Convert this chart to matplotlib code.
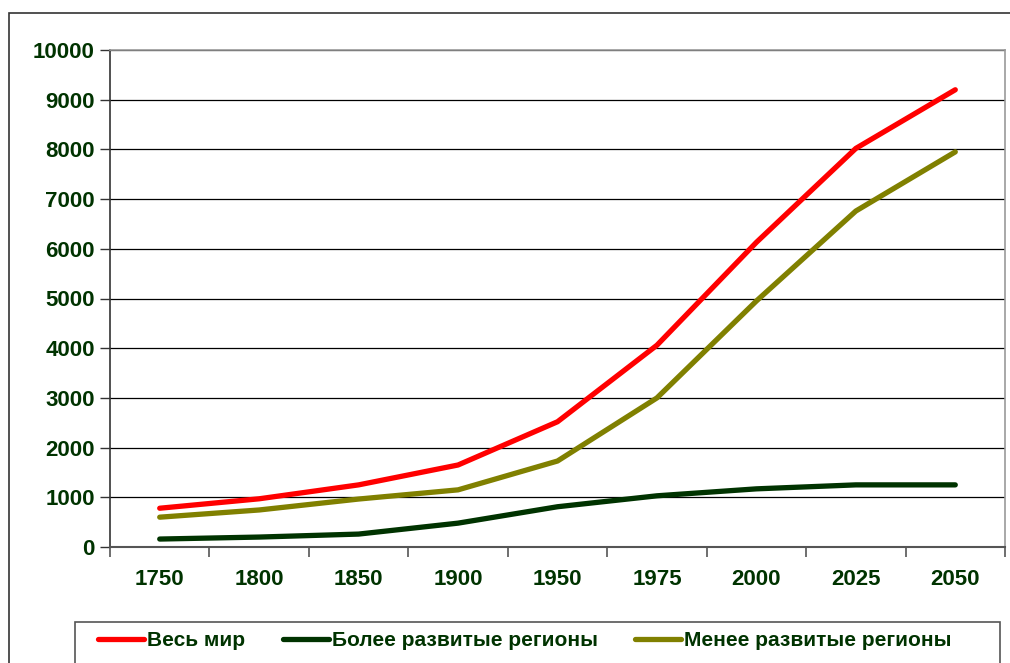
import matplotlib.pyplot as plt
from matplotlib.patches import Rectangle

years = ['1750', '1800', '1850', '1900', '1950', '1975', '2000', '2025', '2050']
world = [780, 970, 1250, 1650, 2520, 4060, 6130, 8020, 9200]
more_dev = [160, 200, 260, 480, 810, 1030, 1170, 1250, 1250]
less_dev = [600, 745, 965, 1150, 1730, 3000, 4950, 6760, 7950]
labels = ['Весь мир', 'Более развитые регионы', 'Менее развитые регионы']

txt = '#003300'
plt.rcParams['font.family'] = ['Liberation Sans', 'DejaVu Sans']
plt.rcParams['font.weight'] = 'bold'

fig = plt.figure(figsize=(10.1, 6.63), dpi=100)
# outer chart border (cut by the image edges)
fig.patches.append(Rectangle((9 / 1010, -0.1), 1.2, 1 - 13 / 663 + 0.1, transform=fig.transFigure,
                             fill=False, edgecolor='#333333', lw=1.2))

ax = fig.add_axes([110 / 1010, 116 / 663, 895 / 1010, 497 / 663])
x = list(range(len(years)))
ax.plot(x, world, color='#ff0000', lw=3.8, solid_capstyle='round', label=labels[0])
ax.plot(x, more_dev, color='#003300', lw=3.8, solid_capstyle='round', label=labels[1])
ax.plot(x, less_dev, color='#808000', lw=3.8, solid_capstyle='round', label=labels[2])

ax.set_xlim(-0.5, len(years) - 0.5)
ax.set_ylim(0, 10000)
ax.set_yticks(range(0, 10001, 1000))
ax.set_xticks([i - 0.5 for i in range(len(years) + 1)], minor=False)
ax.set_xticklabels([])
ax.set_xticks(x, minor=True)
ax.set_xticklabels(years, minor=True)
ax.tick_params(axis='x', which='minor', length=0, pad=16, labelsize=16, labelcolor=txt)
ax.tick_params(axis='x', which='major', length=7, width=1.2, color='#555555', direction='out')
ax.tick_params(axis='y', length=7, width=1, color='#333333', pad=4, labelsize=16, labelcolor=txt)
for lab in ax.get_xticklabels(minor=True) + ax.get_yticklabels():
    lab.set_fontweight('bold')

ax.grid(axis='y', color='black', lw=0.9)
ax.set_axisbelow(True)
for s in ['top', 'right']:
    ax.spines[s].set_color('#999999')
    ax.spines[s].set_linewidth(1.2)
ax.spines['left'].set_color('#333333')
ax.spines['bottom'].set_color('#555555')
ax.spines['left'].set_linewidth(1.2)
ax.spines['bottom'].set_linewidth(1.5)

# legend box
fig.patches.append(Rectangle((75 / 1010, -0.1), 925 / 1010, 0.1 + (663 - 622) / 663,
                             transform=fig.transFigure, fill=False, edgecolor='#555555', lw=1.2))
leg = fig.legend(loc='center left', bbox_to_anchor=(90 / 1010, 1 - 641 / 663), ncol=3,
                 frameon=False, handlelength=2.2, handletextpad=0.15, columnspacing=1.8,
                 prop={'size': 15, 'weight': 'bold'}, borderaxespad=0)
for t in leg.get_texts():
    t.set_color(txt)

fig.savefig('out.png', dpi=100)
